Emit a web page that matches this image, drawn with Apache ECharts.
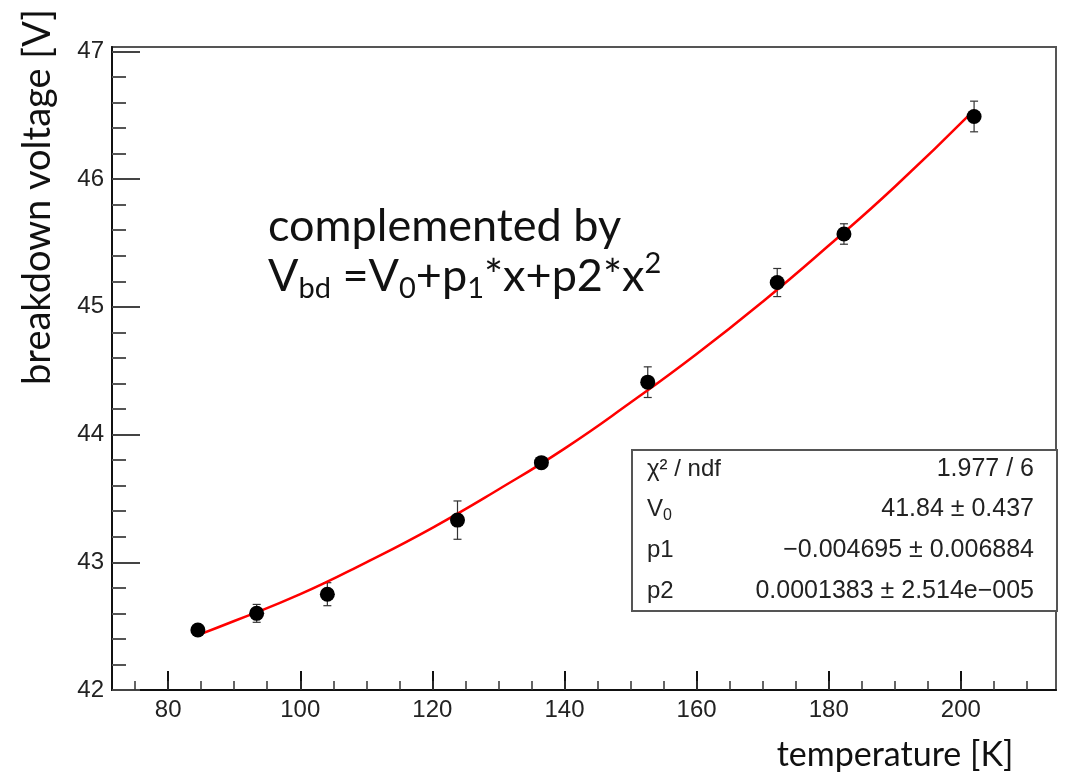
<!DOCTYPE html>
<html>
<head>
<meta charset="utf-8">
<script src="https://cdn.jsdelivr.net/npm/echarts@6/dist/echarts.min.js"></script>
<style>
  html, body { margin: 0; padding: 0; background: #fff; }
  #chart { width: 1067px; height: 779px; }
</style>
</head>
<body>
<div id="chart"></div>
<script>
// measured points
const temperature = [84.5, 93.4, 104.1, 123.8, 136.5, 152.6, 172.2, 182.3, 202.0];
const voltage = [42.47, 42.60, 42.75, 43.33, 43.78, 44.41, 45.19, 45.57, 46.49];
const voltageErr = [0.03, 0.07, 0.09, 0.15, 0.04, 0.12, 0.11, 0.08, 0.12];

// fit curve
const fitT = [84.5, 90, 100, 110, 120, 130, 140, 150, 160, 170, 180, 190, 202];
const fitV = [42.43, 42.54, 42.75, 43.00, 43.27, 43.57, 43.89, 44.25, 44.63, 45.04, 45.48, 45.94, 46.54];

// axis ticks
const xLabels = [80, 100, 120, 140, 160, 180, 200];
const xMinor = [75, 80, 85, 90, 95, 100, 105, 110, 115, 120, 125, 130, 135, 140, 145, 150, 155, 160, 165, 170, 175, 180, 185, 190, 195, 200, 205, 210];
const yLabels = [42, 43, 44, 45, 46, 47];
const yMinor = [42.2, 42.4, 42.6, 42.8, 43.2, 43.4, 43.6, 43.8, 44.2, 44.4, 44.6, 44.8, 45.2, 45.4, 45.6, 45.8, 46.2, 46.4, 46.6, 46.8];

// fit box
const statNames = ['χ² / ndf', 'V', 'p1', 'p2'];
const statValues = ['1.977 / 6', '41.84 ± 0.437', '−0.004695 ± 0.006884', '0.0001383 ± 2.514e−005'];

const xMin = 71.5, xMax = 214.4, yMin = 42, yMax = 47.034;

const myChart = echarts.init(document.getElementById('chart'));

const axisFont = { fontFamily: 'Liberation Sans', fontSize: 24, color: '#222' };

// stats box rows
const statGraphics = [];
const rowY = [469, 509, 550, 591];
statNames.forEach((n, i) => {
  statGraphics.push({
    type: 'text', x: 647, y: rowY[i],
    style: i === 1
      ? { text: '{a|V}{s|0}', verticalAlign: 'middle', rich: { a: { fontFamily: 'Liberation Sans', fontSize: 24, fill: '#222', lineHeight: 30 }, s: { fontFamily: 'Liberation Sans', fontSize: 16, fill: '#222', lineHeight: 16, verticalAlign: 'bottom' } } }
      : { text: n, fontFamily: 'Liberation Sans', fontSize: 24, fill: '#222', verticalAlign: 'middle' }
  });
  statGraphics.push({
    type: 'text', x: 1034, y: rowY[i],
    style: { text: statValues[i], fontFamily: 'Liberation Sans', fontSize: 25, fill: '#222', align: 'right', verticalAlign: 'middle' }
  });
});

const option = {
  backgroundColor: '#fff',
  animation: false,
  grid: { left: 112, right: 11, top: 47, bottom: 89, show: true, borderColor: '#555', borderWidth: 2 },
  xAxis: [
    {
      type: 'value', min: xMin, max: xMax, position: 'bottom',
      axisLine: { show: true, lineStyle: { color: '#111', width: 2 } },
      axisTick: { show: true, inside: true, length: 19, customValues: xLabels, lineStyle: { color: '#111', width: 2 } },
      axisLabel: { customValues: xLabels, margin: 8, ...axisFont },
      splitLine: { show: false }
    },
    {
      type: 'value', min: xMin, max: xMax, position: 'bottom',
      axisLine: { show: false },
      axisTick: { show: true, inside: true, length: 9, customValues: xMinor, lineStyle: { color: '#333', width: 1.5 } },
      axisLabel: { show: false },
      splitLine: { show: false }
    }
  ],
  yAxis: [
    {
      type: 'value', min: yMin, max: yMax, position: 'left',
      axisLine: { show: true, lineStyle: { color: '#111', width: 2 } },
      axisTick: { show: true, inside: true, length: 28, customValues: yLabels, lineStyle: { color: '#444', width: 2 } },
      axisLabel: { customValues: yLabels, margin: 8, ...axisFont },
      splitLine: { show: false }
    },
    {
      type: 'value', min: yMin, max: yMax, position: 'left',
      axisLine: { show: false },
      axisTick: { show: true, inside: true, length: 14, customValues: yMinor, lineStyle: { color: '#555', width: 2 } },
      axisLabel: { show: false },
      splitLine: { show: false }
    }
  ],
  graphic: [
    {
      type: 'text', x: 38, y: 197, rotation: Math.PI / 2,
      style: { text: 'breakdown voltage [V]', fontFamily: 'Lato', fontSize: 38, fill: '#111', align: 'center', verticalAlign: 'middle' }
    },
    {
      type: 'text', x: 895, y: 755,
      style: { text: 'temperature [K]', fontFamily: 'Lato', fontSize: 34, fill: '#111', align: 'center', verticalAlign: 'middle' }
    },
    {
      type: 'text', x: 268, y: 226,
      style: { text: 'complemented by', fontFamily: 'Lato', fontSize: 45, fill: '#111', verticalAlign: 'middle' }
    },
    {
      type: 'text', x: 268, y: 276,
      style: {
        text: '{n|V}{s|bd}{n| =V}{s|0}{n|+p}{s|1}{n|*x+p2*x}{u|2}',
        verticalAlign: 'middle',
        rich: {
          n: { fontFamily: 'Lato', fontSize: 45, fill: '#111', lineHeight: 54 },
          s: { fontFamily: 'Lato', fontSize: 29, fill: '#111', lineHeight: 28, verticalAlign: 'bottom' },
          u: { fontFamily: 'Lato', fontSize: 29, fill: '#111', lineHeight: 34, verticalAlign: 'top' }
        }
      }
    },
    {
      type: 'rect', shape: { x: 632, y: 450, width: 425, height: 161 },
      style: { fill: '#fff', stroke: '#555', lineWidth: 2 }, z: 5
    },
    ...statGraphics.map(g => Object.assign(g, { z: 6 }))
  ],
  series: [
    {
      type: 'line', name: 'fit', xAxisIndex: 0, yAxisIndex: 0,
      data: fitT.map((t, i) => [t, fitV[i]]),
      smooth: true, showSymbol: false,
      lineStyle: { color: '#ff0000', width: 2.5 }, z: 3
    },
    {
      type: 'custom', name: 'errors', xAxisIndex: 0, yAxisIndex: 0,
      data: temperature.map((t, i) => [t, voltage[i], voltageErr[i]]),
      renderItem: (params, api) => {
        const x = api.value(0), y = api.value(1), e = api.value(2);
        const top = api.coord([x, y + e]);
        const bot = api.coord([x, y - e]);
        const cap = 4;
        const style = { stroke: '#333', lineWidth: 1.2 };
        return {
          type: 'group',
          children: [
            { type: 'line', shape: { x1: top[0], y1: top[1], x2: bot[0], y2: bot[1] }, style },
            { type: 'line', shape: { x1: top[0] - cap, y1: top[1], x2: top[0] + cap, y2: top[1] }, style },
            { type: 'line', shape: { x1: bot[0] - cap, y1: bot[1], x2: bot[0] + cap, y2: bot[1] }, style }
          ]
        };
      },
      z: 2
    },
    {
      type: 'scatter', name: 'data', xAxisIndex: 0, yAxisIndex: 0,
      data: temperature.map((t, i) => [t, voltage[i]]),
      symbol: 'circle', symbolSize: 15,
      itemStyle: { color: '#000', opacity: 1 }, z: 4
    }
  ]
};

myChart.setOption(option);
window.addEventListener('resize', () => {
  myChart.resize();
});
</script>
</body>
</html>
